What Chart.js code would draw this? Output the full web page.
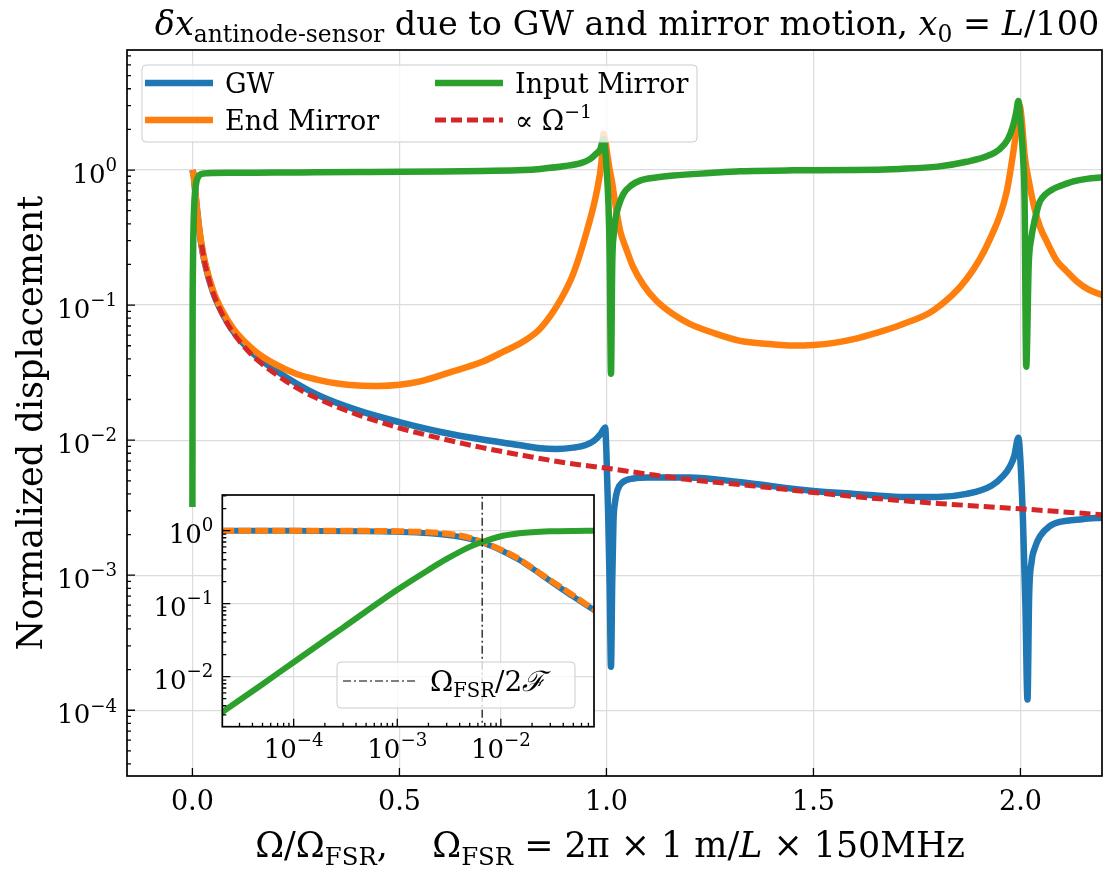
<!DOCTYPE html>
<html>
<head>
<meta charset="utf-8">
<script src="https://cdn.jsdelivr.net/npm/chart.js@4.4.0/dist/chart.umd.min.js"></script>
<style>
  body { margin: 0; background: #fff; }
  #wrap { position: relative; width: 1109px; height: 872px; }
  #main { position: absolute; left: 0; top: 0; }
  #inset { position: absolute; left: 130px; top: 485px; }
</style>
</head>
<body>
<div id="wrap">
  <canvas id="main" width="1109" height="872"></canvas>
  <canvas id="inset" width="480" height="290"></canvas>
</div>
<script>
// ---- main panel: Omega / Omega_FSR vs normalized displacement ----
const mainXTicks = [0, 0.5, 1.0, 1.5, 2.0];
const mainXLabels = ['0.0', '0.5', '1.0', '1.5', '2.0'];
const mainYTicks = [1e-4, 1e-3, 1e-2, 1e-1, 1];
const mainYExp = ['−4', '−3', '−2', '−1', '0'];

const gwX = [0, 0.003, 0.0066, 0.01, 0.015, 0.02, 0.03, 0.05, 0.07, 0.1, 0.15, 0.2, 0.3, 0.4, 0.5, 0.6, 0.7, 0.8, 0.84, 0.88, 0.92, 0.95, 0.97, 0.985, 0.993, 0.997, 1.0, 1.004, 1.008, 1.011, 1.014, 1.017, 1.021, 1.027, 1.04, 1.065, 1.1, 1.2, 1.32, 1.5, 1.6, 1.71, 1.8, 1.87, 1.93, 1.96, 1.975, 1.985, 1.995, 2.0, 2.006, 2.012, 2.017, 2.021, 2.027, 2.035, 2.047, 2.07, 2.095, 2.15, 2.2];
const gwY = [1.0, 0.92, 0.71, 0.55, 0.40, 0.30, 0.205, 0.124, 0.09, 0.063, 0.043, 0.033, 0.0218, 0.0166, 0.0136, 0.0115, 0.0101, 0.0091, 0.0087, 0.0086, 0.0088, 0.0092, 0.0099, 0.0110, 0.0120, 0.0124, 0.008, 0.003, 0.0008, 0.00021, 0.0009, 0.0025, 0.0035, 0.0043, 0.0049, 0.0052, 0.0053, 0.0053, 0.0049, 0.0042, 0.0040, 0.0038, 0.0038, 0.0040, 0.0046, 0.0055, 0.0064, 0.0076, 0.0104, 0.0070, 0.0026, 0.0006, 0.00012, 0.0007, 0.00126, 0.0016, 0.00194, 0.0023, 0.00248, 0.0026, 0.00267];

const endX = [0, 0.003, 0.0066, 0.01, 0.015, 0.02, 0.03, 0.05, 0.07, 0.1, 0.15, 0.2, 0.25, 0.3, 0.35, 0.4, 0.45, 0.5, 0.55, 0.62, 0.7, 0.75, 0.8, 0.84, 0.888, 0.92, 0.953, 0.977, 0.988, 0.993, 0.998, 1.003, 1.008, 1.013, 1.022, 1.033, 1.048, 1.065, 1.09, 1.12, 1.16, 1.2, 1.26, 1.32, 1.4, 1.45, 1.5, 1.55, 1.6, 1.65, 1.71, 1.79, 1.87, 1.926, 1.966, 1.986, 1.998, 2.004, 2.01, 2.022, 2.034, 2.047, 2.065, 2.087, 2.11, 2.135, 2.165, 2.2];
const endY = [1.0, 0.92, 0.71, 0.55, 0.40, 0.31, 0.21, 0.128, 0.093, 0.066, 0.046, 0.0365, 0.031, 0.0281, 0.0263, 0.0254, 0.0252, 0.0257, 0.0272, 0.0316, 0.038, 0.045, 0.054, 0.067, 0.108, 0.171, 0.356, 0.70, 1.15, 1.86, 1.6, 1.25, 1.0, 0.836, 0.55, 0.356, 0.26, 0.19, 0.14, 0.108, 0.086, 0.073, 0.062, 0.0546, 0.0513, 0.0502, 0.0507, 0.0525, 0.0562, 0.062, 0.0713, 0.0914, 0.156, 0.307, 0.675, 1.59, 3.0, 2.2, 1.3, 0.778, 0.52, 0.381, 0.29, 0.215, 0.18, 0.151, 0.13, 0.118];

const inputX = [0.00002, 0.0005, 0.001, 0.002, 0.003, 0.005, 0.0066, 0.01, 0.015, 0.02, 0.03, 0.05, 0.1, 0.2, 0.3, 0.4, 0.5, 0.6, 0.7, 0.8, 0.84, 0.9, 0.94, 0.961, 0.975, 0.985, 0.993, 0.998, 1.002, 1.005, 1.008, 1.011, 1.014, 1.018, 1.021, 1.03, 1.041, 1.06, 1.081, 1.12, 1.162, 1.25, 1.323, 1.45, 1.6, 1.708, 1.8, 1.87, 1.92, 1.95, 1.97, 1.982, 1.99, 1.995, 2.0, 2.006, 2.01, 2.014, 2.02, 2.026, 2.031, 2.04, 2.047, 2.06, 2.079, 2.1, 2.128, 2.16, 2.2];
const inputY = [0.0032, 0.08, 0.16, 0.30, 0.42, 0.60, 0.70, 0.83, 0.90, 0.93, 0.945, 0.952, 0.955, 0.958, 0.962, 0.966, 0.97, 0.976, 0.985, 1.0, 1.02, 1.07, 1.13, 1.21, 1.32, 1.42, 1.70, 1.30, 0.85, 0.55, 0.22, 0.031, 0.20, 0.34, 0.42, 0.55, 0.667, 0.77, 0.835, 0.88, 0.91, 0.95, 0.98, 0.995, 1.0, 1.02, 1.06, 1.153, 1.27, 1.43, 1.7, 2.12, 2.7, 3.25, 2.3, 1.3, 0.6, 0.035, 0.2, 0.31, 0.38, 0.5, 0.585, 0.66, 0.724, 0.77, 0.824, 0.86, 0.885];

const refX = [0.022, 0.03, 0.04, 0.05, 0.07, 0.1, 0.13, 0.16, 0.2, 0.25, 0.3, 0.35, 0.4, 0.5, 0.6, 0.7, 0.8, 0.9, 1.0, 1.1, 1.2, 1.35, 1.5, 1.65, 1.8, 2.0, 2.2];
const refY = [0.28, 0.205, 0.154, 0.123, 0.088, 0.0615, 0.0473, 0.0384, 0.031, 0.0246, 0.0205, 0.0176, 0.0154, 0.0123, 0.0103, 0.0088, 0.0077, 0.0068, 0.0062, 0.0056, 0.0051, 0.0046, 0.0041, 0.0037, 0.0034, 0.0031, 0.0028];

// ---- inset panel: log-log, low frequency ----
const insetXTicks = [1e-4, 1e-3, 1e-2];
const insetXExp = ['−4', '−3', '−2'];
const insetYTicks = [1e-2, 1e-1, 1];
const insetYExp = ['−2', '−1', '0'];

const inGwX = [2e-5, 1e-4, 5e-4, 1e-3, 2e-3, 3e-3, 4e-3, 5e-3, 6.6e-3, 8e-3, 1e-2, 1.5e-2, 2e-2, 3e-2, 5e-2, 8e-2];
const inGwY = [1.0, 0.995, 0.985, 0.965, 0.925, 0.875, 0.825, 0.775, 0.69, 0.62, 0.54, 0.40, 0.305, 0.205, 0.125, 0.081];
const inEndX = [2e-5, 1e-4, 5e-4, 1e-3, 2e-3, 3e-3, 4e-3, 5e-3, 6.6e-3, 8e-3, 1e-2, 1.5e-2, 2e-2, 3e-2, 5e-2, 8e-2];
const inEndY = [1.0, 1.0, 0.995, 0.985, 0.955, 0.91, 0.86, 0.80, 0.70, 0.63, 0.55, 0.41, 0.31, 0.21, 0.13, 0.082];
const inInputX = [2e-5, 5e-5, 1e-4, 3e-4, 1e-3, 2e-3, 3e-3, 5e-3, 6.6e-3, 1e-2, 1.5e-2, 2e-2, 3e-2, 5e-2, 8e-2];
const inInputY = [0.0032, 0.0079, 0.0158, 0.047, 0.155, 0.29, 0.41, 0.60, 0.70, 0.84, 0.92, 0.955, 0.98, 0.993, 0.997];
const cutoffX = [0.0066, 0.0066];
const cutoffY = [0.001, 5];

const FONT = '"DejaVu Serif", serif';
const BLUE = '#1f77b4', ORANGE = '#ff7f0e', GREEN = '#2ca02c', RED = '#d62728';

function pts(xs, ys) {
    return xs.map((x, i) => ({ x: x, y: ys[i] }));
}

// draw a row of text pieces: [text, sizeFactor, italic, baselineShiftFactor]
function runsWidth(ctx, runs, size) {
    let w = 0;
    runs.forEach(r => {
        ctx.font = (r[2] ? 'italic ' : '') + (size * r[1]) + 'px ' + FONT;
        w += ctx.measureText(r[0]).width;
    });
    return w;
}
function drawRuns(ctx, runs, size, x, y, align) {
    const w = runsWidth(ctx, runs, size);
    let cx = align === 'center' ? x - w / 2 : align === 'right' ? x - w : x;
    ctx.textAlign = 'left';
    ctx.textBaseline = 'alphabetic';
    runs.forEach(r => {
        ctx.font = (r[2] ? 'italic ' : '') + (size * r[1]) + 'px ' + FONT;
        ctx.fillText(r[0], cx, y + r[3] * size);
        cx += ctx.measureText(r[0]).width;
    });
}
function fitSize(ctx, runs, target) {
    return 30 * target / runsWidth(ctx, runs, 30);
}
function pow10(exp) {
    return [['10', 1, false, 0], [exp, 0.7, false, -0.45]];
}
function logMinors(min, max) {
    const out = [];
    for (let k = Math.floor(Math.log10(min)); k <= Math.ceil(Math.log10(max)); k++) {
        for (let m = 2; m <= 9; m++) {
            const v = m * Math.pow(10, k);
            if (v > min && v < max) out.push(v);
        }
    }
    return out;
}
function frameAndTicks(ctx, a, xs, ys, xMajor, yMajor, xMinor, yMinor) {
    ctx.strokeStyle = '#000';
    ctx.lineWidth = 1.3;
    ctx.beginPath();
    xMajor.forEach(v => { const p = xs.getPixelForValue(v); ctx.moveTo(p, a.bottom); ctx.lineTo(p, a.bottom - 8); });
    xMinor.forEach(v => { const p = xs.getPixelForValue(v); ctx.moveTo(p, a.bottom); ctx.lineTo(p, a.bottom - 4); });
    yMajor.forEach(v => { const p = ys.getPixelForValue(v); ctx.moveTo(a.left, p); ctx.lineTo(a.left + 8, p); });
    yMinor.forEach(v => { const p = ys.getPixelForValue(v); ctx.moveTo(a.left, p); ctx.lineTo(a.left + 4, p); });
    ctx.stroke();
    ctx.lineWidth = 1.7;
    ctx.strokeRect(a.left, a.top, a.right - a.left, a.bottom - a.top);
}
function legendBox(ctx, x, y, w, h) {
    ctx.beginPath();
    ctx.roundRect(x, y, w, h, 4);
    ctx.fillStyle = 'rgba(255,255,255,0.8)';
    ctx.fill();
    ctx.strokeStyle = '#cccccc';
    ctx.lineWidth = 1;
    ctx.stroke();
}
function legendLine(ctx, x0, x1, y, color, width, dash) {
    ctx.save();
    ctx.strokeStyle = color;
    ctx.lineWidth = width;
    ctx.setLineDash(dash || []);
    ctx.beginPath();
    ctx.moveTo(x0, y);
    ctx.lineTo(x1, y);
    ctx.stroke();
    ctx.restore();
}

const mainDecor = {
    id: 'mainDecor',
    afterDraw(chart) {
        const ctx = chart.ctx, a = chart.chartArea;
        const xs = chart.scales.x, ys = chart.scales.y;
        ctx.save();
        frameAndTicks(ctx, a, xs, ys, mainXTicks, mainYTicks, [], logMinors(ys.min, ys.max));

        ctx.fillStyle = '#000';
        // tick labels
        mainXTicks.forEach((v, i) => {
            drawRuns(ctx, [[mainXLabels[i], 1, false, 0]], 27, xs.getPixelForValue(v), 810, 'center');
        });
        mainYTicks.forEach((v, i) => {
            drawRuns(ctx, pow10(mainYExp[i]), 26, a.left - 10, ys.getPixelForValue(v) + 13, 'right');
        });

        // title
        const title = [['δ', 1, true, 0], ['x', 1, true, 0], ['antinode-sensor', 0.7, false, 0.22],
            [' due to GW and mirror motion, ', 1, false, 0], ['x', 1, true, 0], ['0', 0.7, false, 0.22],
            [' = ', 1, false, 0], ['L', 1, true, 0], ['/100', 1, false, 0]];
        drawRuns(ctx, title, fitSize(ctx, title, 945), 627, 35, 'center');

        // x label
        const xl = [['Ω/Ω', 1, false, 0], ['FSR', 0.7, false, 0.22], [',    Ω', 1, false, 0], ['FSR', 0.7, false, 0.22],
            [' = 2π × 1 m/', 1, false, 0], ['L', 1, true, 0], [' × 150MHz', 1, false, 0]];
        drawRuns(ctx, xl, fitSize(ctx, xl, 710), 610, 857, 'center');

        // y label
        const yl = [['Normalized displacement', 1, false, 0]];
        ctx.save();
        ctx.translate(42, 423);
        ctx.rotate(-Math.PI / 2);
        drawRuns(ctx, yl, fitSize(ctx, yl, 455), 0, 0, 'center');
        ctx.restore();

        // legend, two columns
        legendBox(ctx, 142, 65, 555, 77);
        const ds = chart.data.datasets;
        const items = [
            { d: ds[3], x: 145, y: 83, runs: [['GW', 1, false, 0]] },
            { d: ds[2], x: 145, y: 120, runs: [['End Mirror', 1, false, 0]] },
            { d: ds[1], x: 435, y: 83, runs: [['Input Mirror', 1, false, 0]] },
            { d: ds[0], x: 435, y: 120, runs: [['∝ Ω', 1, false, 0], ['−1', 0.7, false, -0.45]] }
        ];
        items.forEach(it => {
            legendLine(ctx, it.x, it.x + 68, it.y, it.d.borderColor, it.d.borderWidth, it.d.borderDash);
            ctx.fillStyle = '#000';
            drawRuns(ctx, it.runs, 27, it.x + 80, it.y + 10, 'left');
        });
        ctx.restore();
    }
};

const insetDecor = {
    id: 'insetDecor',
    beforeDraw(chart) {
        const ctx = chart.ctx, a = chart.chartArea;
        ctx.save();
        ctx.fillStyle = '#fff';
        ctx.fillRect(a.left, a.top, a.right - a.left, a.bottom - a.top);
        ctx.restore();
    },
    afterDraw(chart) {
        const ctx = chart.ctx, a = chart.chartArea;
        const xs = chart.scales.x, ys = chart.scales.y;
        ctx.save();
        frameAndTicks(ctx, a, xs, ys, insetXTicks, insetYTicks, logMinors(xs.min, xs.max), logMinors(ys.min, ys.max));
        ctx.fillStyle = '#000';
        insetXTicks.forEach((v, i) => {
            drawRuns(ctx, pow10(insetXExp[i]), 26, xs.getPixelForValue(v), a.bottom + 31, 'center');
        });
        insetYTicks.forEach((v, i) => {
            drawRuns(ctx, pow10(insetYExp[i]), 26, a.left - 9, ys.getPixelForValue(v) + 12, 'right');
        });
        const d = chart.data.datasets[0];
        legendBox(ctx, 207, 177, 238, 46);
        legendLine(ctx, 213, 285, 196, d.borderColor, d.borderWidth, d.borderDash);
        ctx.fillStyle = '#000';
        drawRuns(ctx, [['Ω', 1, false, 0], ['FSR', 0.7, false, 0.22], ['/2', 1, false, 0], ['ℱ', 1, true, 0]], 28, 300, 206, 'left');
        ctx.restore();
    }
};

function lineSet(label, xs, ys, color, width, order, dash, smooth) {
    return {
        label: label, data: pts(xs, ys), borderColor: color, backgroundColor: color,
        borderWidth: width, order: order, borderDash: dash || [], fill: false,
        cubicInterpolationMode: smooth ? 'monotone' : 'default'
    };
}

function axisOpts(type, min, max, ticks) {
    return {
        type: type, min: min, max: max, bounds: 'data',
        afterBuildTicks: s => { s.ticks = ticks.map(v => ({ value: v })); },
        grid: { color: '#dcdcdc', lineWidth: 1.2, drawTicks: false },
        border: { display: false },
        ticks: { display: false }
    };
}

const common = {
    responsive: false, animation: false, devicePixelRatio: 1,
    elements: { point: { radius: 0 }, line: { tension: 0, borderJoinStyle: 'round' } },
    plugins: { legend: { display: false }, tooltip: { enabled: false } }
};

new Chart(document.getElementById('main'), {
    type: 'line',
    data: {
        datasets: [
            lineSet('∝ Ω⁻¹', refX, refY, RED, 5, 0, [11, 5], true),
            lineSet('Input Mirror', inputX, inputY, GREEN, 6.5, 1, null, true),
            lineSet('End Mirror', endX, endY, ORANGE, 6.5, 2, null, true),
            lineSet('GW', gwX, gwY, BLUE, 6.5, 3, null, true)
        ]
    },
    options: Object.assign({}, common, {
        layout: { padding: { left: 127, top: 50, right: 7, bottom: 96 } },
        scales: {
            x: axisOpts('linear', -0.158, 2.197, mainXTicks),
            y: axisOpts('logarithmic', Math.pow(10, -4.487), Math.pow(10, 0.889), mainYTicks)
        }
    }),
    plugins: [mainDecor]
});

new Chart(document.getElementById('inset'), {
    type: 'line',
    data: {
        datasets: [
            lineSet('Ω_FSR/2F', cutoffX, cutoffY, '#000', 1.2, 0, [8, 3, 2, 3]),
            lineSet('Input Mirror', inInputX, inInputY, GREEN, 6, 1, null, true),
            lineSet('End Mirror', inEndX, inEndY, ORANGE, 6, 2, [13, 4], true),
            lineSet('GW', inGwX, inGwY, BLUE, 6, 3, null, true)
        ]
    },
    options: Object.assign({}, common, {
        layout: { padding: { left: 92.3, top: 10, right: 16, bottom: 48.3 } },
        scales: {
            x: axisOpts('logarithmic', Math.pow(10, -4.689), Math.pow(10, -1.101), insetXTicks),
            y: axisOpts('logarithmic', Math.pow(10, -2.685), Math.pow(10, 0.489), insetYTicks)
        }
    }),
    plugins: [insetDecor]
});
</script>
</body>
</html>
